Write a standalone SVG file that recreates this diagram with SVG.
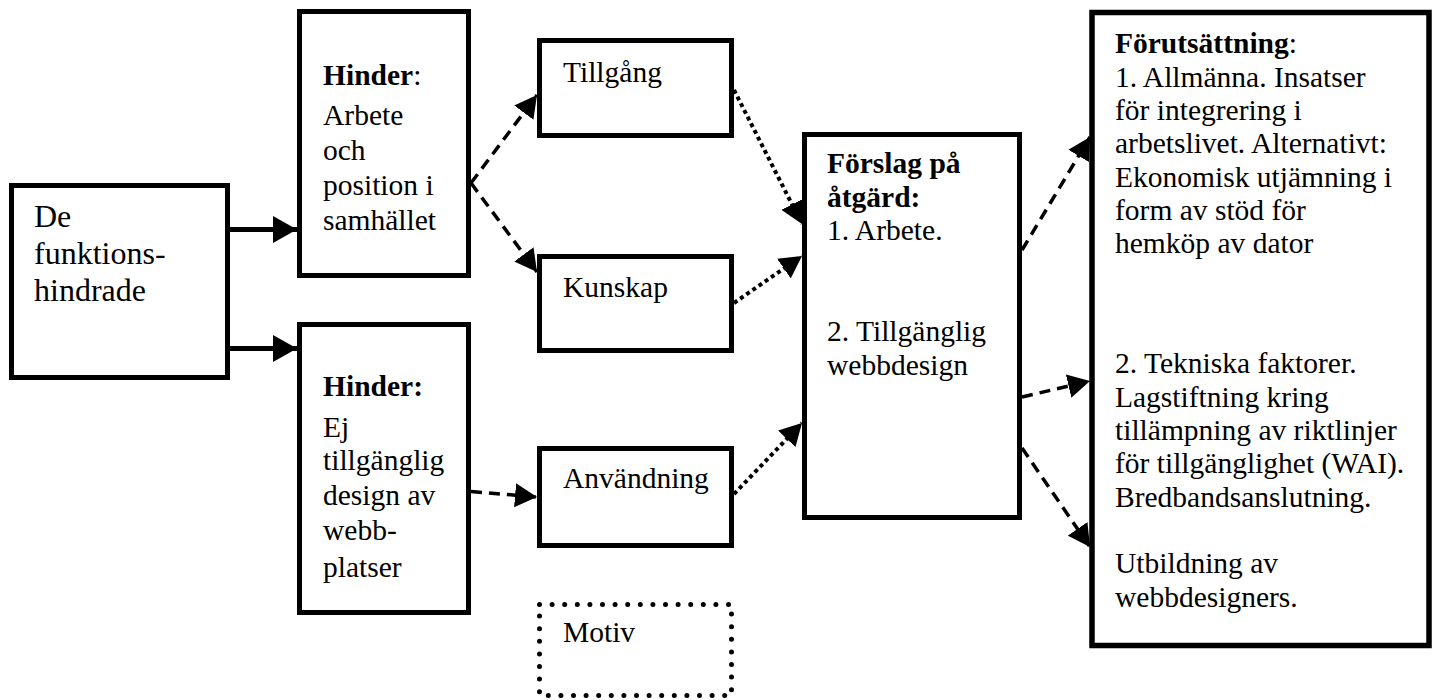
<svg xmlns="http://www.w3.org/2000/svg" width="1436" height="700" viewBox="0 0 1436 700">
  <defs>
    <style>
      .box { fill: #fff; stroke: #000; stroke-width: 5; }
      .motiv { fill: #fff; stroke: #000; stroke-width: 5; stroke-linecap: round; stroke-dasharray: 0 12.6; }
      .t { font-family: "Liberation Serif", "Times New Roman", serif; font-size: 29.5px; fill: #000; }
      .big { font-size: 32px; }
      .b { font-weight: bold; }
      .solid { stroke: #000; stroke-width: 5; fill: none; }
      .dash { stroke: #000; stroke-width: 3.5; stroke-dasharray: 11 7; fill: none; }
      .dot { stroke: #000; stroke-width: 4; stroke-dasharray: 4 3.5; fill: none; }
    </style>
    <marker id="head" markerUnits="userSpaceOnUse" markerWidth="24" markerHeight="27" refX="24" refY="13.5" orient="auto">
      <path d="M0,0 L24,13.5 L0,27 Z" fill="#000"/>
    </marker>
    <marker id="headS" markerUnits="userSpaceOnUse" markerWidth="22" markerHeight="24" refX="22" refY="12" orient="auto">
      <path d="M0,0 L22,12 L0,24 Z" fill="#000"/>
    </marker>
  </defs>

  <g id="connectors">
    <line class="solid" x1="230" y1="229.5" x2="297" y2="229.5" marker-end="url(#head)"/>
    <line class="solid" x1="230" y1="348.5" x2="297" y2="348.5" marker-end="url(#head)"/>
    <line class="dash" x1="471" y1="183" x2="537" y2="95" marker-end="url(#headS)"/>
    <line class="dash" x1="471" y1="183" x2="537" y2="272" marker-end="url(#headS)"/>
    <line class="dash" x1="471" y1="491.5" x2="537" y2="497" marker-end="url(#headS)"/>
    <line class="dot" x1="734" y1="90" x2="802" y2="224" marker-end="url(#headS)"/>
    <line class="dot" x1="734" y1="303" x2="802" y2="256" marker-end="url(#headS)"/>
    <line class="dot" x1="734" y1="494" x2="802" y2="423" marker-end="url(#headS)"/>
    <line class="dash" x1="1022" y1="250" x2="1090" y2="137" marker-end="url(#headS)"/>
    <line class="dash" x1="1022" y1="397" x2="1090" y2="381" marker-end="url(#headS)"/>
    <line class="dash" x1="1022" y1="448" x2="1090" y2="547" marker-end="url(#headS)"/>
  </g>

  <g id="funktionshindrade">
    <rect class="box" x="11.5" y="185.5" width="216" height="192"/>
    <text class="t big" x="34" y="227">De</text>
    <text class="t big" x="34" y="264">funktions-</text>
    <text class="t big" x="34" y="301">hindrade</text>
  </g>

  <g id="hinder-arbete">
    <rect class="box" x="299.5" y="11.5" width="169" height="264"/>
    <text class="t" x="323" y="85"><tspan class="b">Hinder</tspan>:</text>
    <text class="t" x="323" y="125">Arbete</text>
    <text class="t" x="323" y="160">och</text>
    <text class="t" x="323" y="195">position i</text>
    <text class="t" x="323" y="230">samhället</text>
  </g>

  <g id="hinder-design">
    <rect class="box" x="299.5" y="324.5" width="169" height="288"/>
    <text class="t b" x="323" y="396">Hinder:</text>
    <text class="t" x="323" y="436.5">Ej</text>
    <text class="t" x="323" y="470">tillgänglig</text>
    <text class="t" x="323" y="505">design av</text>
    <text class="t" x="323" y="540">webb-</text>
    <text class="t" x="323" y="576.5">platser</text>
  </g>

  <g id="tillgang">
    <rect class="box" x="539.5" y="40.5" width="192" height="95"/>
    <text class="t" x="563" y="81.5">Tillgång</text>
  </g>

  <g id="kunskap">
    <rect class="box" x="539.5" y="256.5" width="192" height="94"/>
    <text class="t" x="563" y="296.5">Kunskap</text>
  </g>

  <g id="anvandning">
    <rect class="box" x="539.5" y="448.5" width="192" height="97"/>
    <text class="t" x="563" y="488">Användning</text>
  </g>

  <g id="motiv">
    <rect class="motiv" x="539.5" y="604.5" width="192" height="91"/>
    <text class="t" x="563" y="641.5">Motiv</text>
  </g>

  <g id="forslag">
    <rect class="box" x="804.5" y="134.5" width="215" height="383"/>
    <text class="t b" x="827" y="173">Förslag på</text>
    <text class="t b" x="827" y="207">åtgärd:</text>
    <text class="t" x="827" y="240">1. Arbete.</text>
    <text class="t" x="827" y="340.5">2. Tillgänglig</text>
    <text class="t" x="827" y="375">webbdesign</text>
  </g>

  <g id="forutsattning">
    <rect class="box" x="1092" y="12.5" width="337" height="633" style="stroke-width:5.5"/>
    <text class="t" x="1115" y="53.3"><tspan class="b">Förutsättning</tspan>:</text>
    <text class="t" x="1115" y="86.7">1. Allmänna. Insatser</text>
    <text class="t" x="1115" y="120">för integrering i</text>
    <text class="t" x="1115" y="153.3">arbetslivet. Alternativt:</text>
    <text class="t" x="1115" y="186.7">Ekonomisk utjämning i</text>
    <text class="t" x="1115" y="220">form av stöd för</text>
    <text class="t" x="1115" y="253.3">hemköp av dator</text>
    <text class="t" x="1115" y="373.3">2. Tekniska faktorer.</text>
    <text class="t" x="1115" y="406.7">Lagstiftning kring</text>
    <text class="t" x="1115" y="440">tillämpning av riktlinjer</text>
    <text class="t" x="1115" y="473.3">för tillgänglighet (WAI).</text>
    <text class="t" x="1115" y="506.7">Bredbandsanslutning.</text>
    <text class="t" x="1115" y="573.3">Utbildning av</text>
    <text class="t" x="1115" y="606.7">webbdesigners.</text>
  </g>
</svg>
